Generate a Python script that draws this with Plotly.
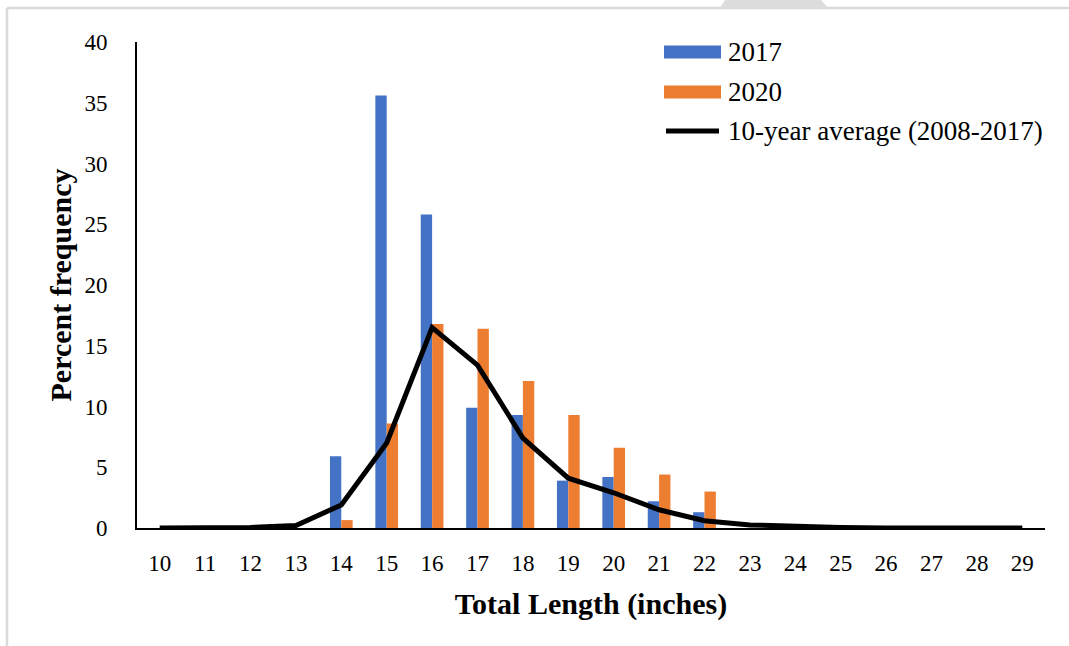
import plotly.graph_objects as go

# ---- data ----
lengths = list(range(10, 30))
pct_2017 = [0, 0, 0, 0, 5.9, 35.6, 25.8, 9.9, 9.3, 3.9, 4.2, 2.2, 1.3, 0, 0, 0, 0, 0, 0, 0]
pct_2020 = [0, 0, 0, 0, 0.65, 8.6, 16.8, 16.4, 12.1, 9.3, 6.6, 4.4, 3.0, 0, 0.1, 0, 0, 0, 0, 0]
avg_10yr = [0, 0, 0.05, 0.2, 1.9, 7.0, 16.5, 13.4, 7.4, 4.1, 2.9, 1.5, 0.6, 0.25, 0.1, 0.05, 0, 0, 0, 0]
series_names = ["2017", "2020", "10-year average (2008-2017)"]
x_title = "Total Length (inches)"
y_title = "Percent frequency"

BLUE = "#4472C4"
ORANGE = "#ED7D31"
FONT = "Times New Roman, Liberation Serif, serif"

W, H = 1069, 646
L, R, T, B = 137, 1045, 42, 528  # plot area in pixels


def px(x):
    return (x - L) / (R - L)


def py(y):
    return (B - y) / (B - T)


fig = go.Figure()
fig.add_trace(go.Bar(x=lengths, y=pct_2017, name=series_names[0], marker_color=BLUE,
                     marker_line_width=0))
fig.add_trace(go.Bar(x=lengths, y=pct_2020, name=series_names[1], marker_color=ORANGE,
                     marker_line_width=0))
fig.add_trace(go.Scatter(x=lengths, y=avg_10yr, name=series_names[2], mode="lines",
                         line=dict(color="black", width=5), cliponaxis=False))

shapes = []
annotations = []
# page frame (gray)
gray = "#d9d9d9"
shapes.append(dict(type="line", xref="paper", yref="paper", x0=px(7), x1=px(7), y0=py(8), y1=py(646),
                   line=dict(color=gray, width=2.5)))
shapes.append(dict(type="line", xref="paper", yref="paper", x0=px(7), x1=px(1069), y0=py(8), y1=py(8),
                   line=dict(color=gray, width=2.5)))
shapes.append(dict(type="path", xref="paper", yref="paper",
                   path=f"M {px(720)},{py(8)} L {px(725)},{py(0)} L {px(821)},{py(0)} L {px(828)},{py(8)} Z",
                   fillcolor="#dcdcdc", line=dict(width=0)))

# custom legend
leg_x0, leg_x1, text_x = 664, 721, 726
rows = [52, 92, 131]
for i, (name, yc) in enumerate(zip(series_names, rows)):
    if i < 2:
        shapes.append(dict(type="rect", xref="paper", yref="paper",
                           x0=px(leg_x0), x1=px(leg_x1), y0=py(yc - 6.5), y1=py(yc + 6.5),
                           fillcolor=[BLUE, ORANGE][i], line=dict(width=0)))
    else:
        shapes.append(dict(type="line", xref="paper", yref="paper",
                           x0=px(leg_x0 + 2), x1=px(leg_x1 - 2), y0=py(yc), y1=py(yc),
                           line=dict(color="black", width=5)))
    annotations.append(dict(xref="paper", yref="paper", x=px(text_x), y=py(yc), text=name,
                            showarrow=False, xanchor="left", yanchor="middle",
                            font=dict(family=FONT, size=27, color="black")))

fig.update_layout(
    width=W, height=H,
    margin=dict(l=L, r=W - R, t=T, b=H - B, pad=0),
    paper_bgcolor="white", plot_bgcolor="white",
    barmode="group", bargap=0.5, bargroupgap=0,
    showlegend=False,
    font=dict(family=FONT, color="black", size=23),
    shapes=shapes, annotations=annotations,
)
fig.update_xaxes(range=[9.5, 29.5], tickmode="array", tickvals=lengths,
                 ticktext=[str(v) for v in lengths], showgrid=False, zeroline=False,
                 showline=True, linecolor="black", linewidth=2, ticks="",
                 ticklabelstandoff=13, tickfont=dict(size=23),
                 title=dict(text=f"<b>{x_title}</b>", font=dict(size=30), standoff=18))
fig.update_yaxes(range=[0, 40], dtick=5, showgrid=False, zeroline=False,
                 showline=True, linecolor="black", linewidth=2, ticks="",
                 ticklabelstandoff=23, tickfont=dict(size=23),
                 title=dict(text=f"<b>{y_title}</b>", font=dict(size=30), standoff=4))

fig.write_html("out.html", config={"displayModeBar": False},
               post_script="document.body.style.margin='0px';")
